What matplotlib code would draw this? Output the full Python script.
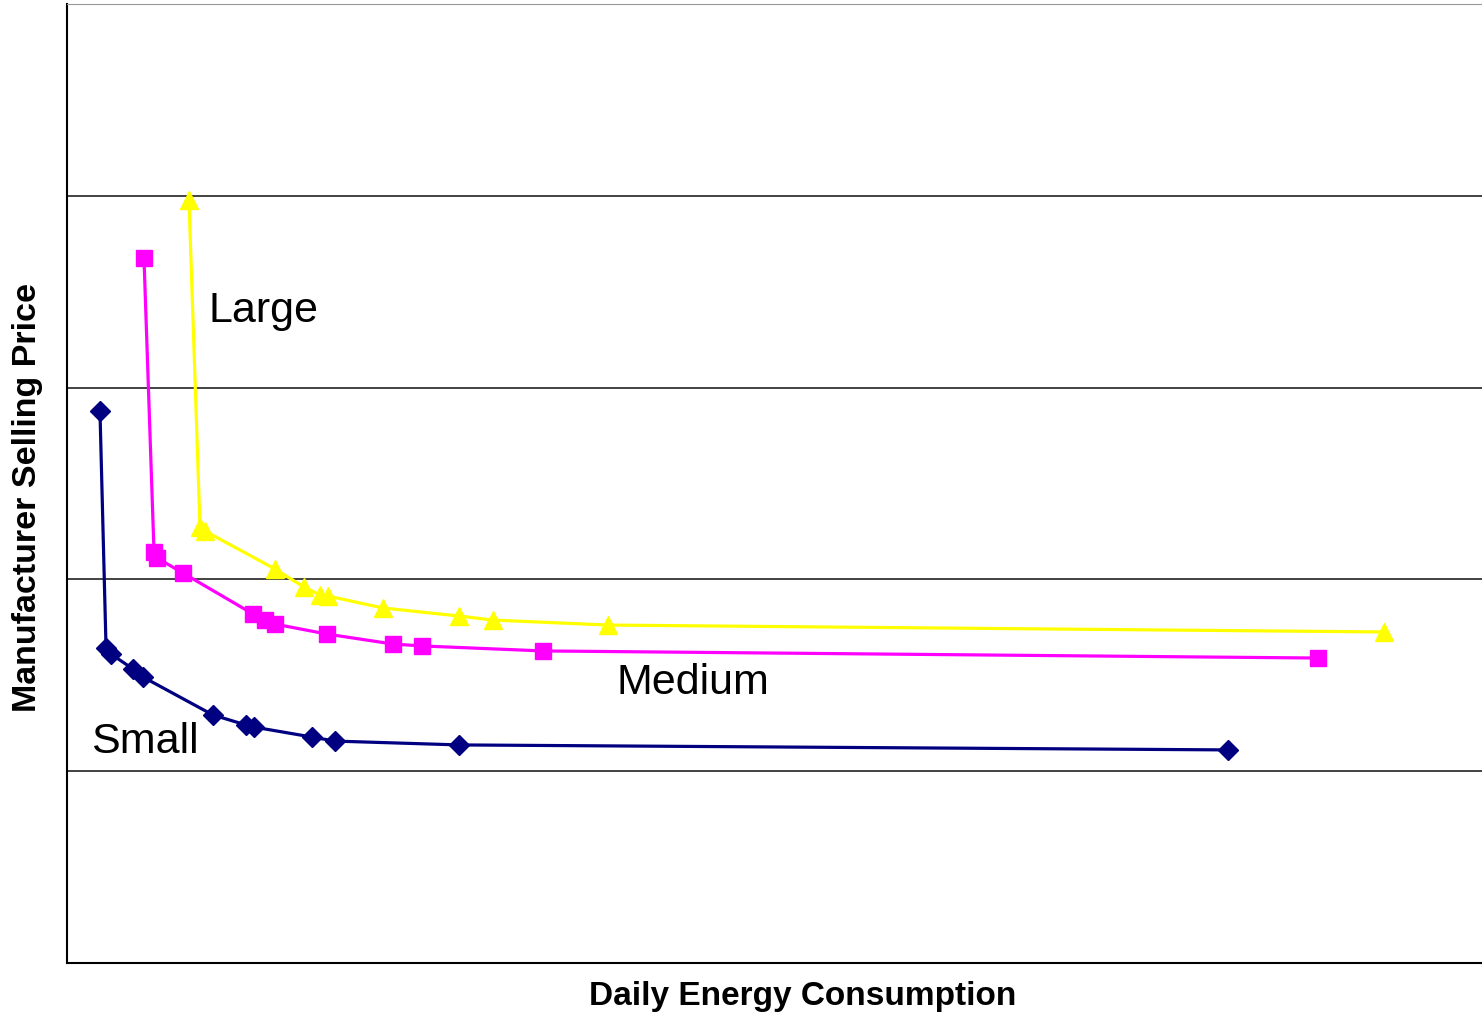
import matplotlib
matplotlib.use("Agg")
import matplotlib.pyplot as plt

# Price vs. daily energy consumption curves (arbitrary units, no tick labels)
small_x = [2.33, 2.76, 3.11, 4.66, 5.37, 10.32, 12.65, 13.22, 17.31, 18.94, 27.70, 82.05]
small_y = [2.878, 1.642, 1.611, 1.533, 1.491, 1.293, 1.241, 1.230, 1.178, 1.157, 1.137, 1.111]

medium_x = [5.44, 6.15, 6.36, 8.20, 13.14, 13.99, 14.70, 18.37, 23.04, 25.09, 33.64, 88.41]
medium_y = [3.676, 2.143, 2.112, 2.033, 1.820, 1.788, 1.767, 1.715, 1.663, 1.653, 1.627, 1.590]

large_x = [8.62, 9.40, 9.75, 14.70, 16.75, 17.88, 18.45, 22.33, 27.70, 30.11, 38.23, 93.07]
large_y = [3.978, 2.273, 2.252, 2.054, 1.960, 1.919, 1.913, 1.851, 1.809, 1.788, 1.762, 1.726]

grid_levels = [1, 2, 3, 4]

plt.rcParams['font.family'] = ['Liberation Sans', 'DejaVu Sans']

fig = plt.figure(figsize=(14.82, 10.16), dpi=100)
ax = fig.add_axes([67 / 1482, 53 / 1016, 1 - 67 / 1482, 959 / 1016])

# horizontal gridlines
for g in grid_levels:
    ax.axhline(g, color='#222222', lw=1.2, zorder=1)

ax.plot(small_x, small_y, color='#000080', lw=2.3, marker='D', ms=10, zorder=3)
ax.plot(medium_x, medium_y, color='#FF00FF', lw=2.3, marker='s', ms=12, zorder=3)
ax.plot(large_x, large_y, color='#FFFF00', lw=2.3, marker='^', ms=13, zorder=3)

ax.text(10.0, 3.40, 'Large', fontsize=31, va='center', ha='left')
ax.text(38.8, 1.46, 'Medium', fontsize=31, va='center', ha='left')
ax.text(1.7, 1.15, 'Small', fontsize=31, va='center', ha='left')

ax.set_xlim(0, 100)
ax.set_ylim(0, 5)
ax.set_xticks([])
ax.set_yticks([])

ax.spines['right'].set_visible(False)
ax.spines['top'].set_color('#999999')
ax.spines['left'].set_linewidth(1.5)
ax.spines['bottom'].set_linewidth(1.5)

fig.text(803 / 1482, 1 - 997 / 1016, 'Daily Energy Consumption', fontsize=24,
         fontweight='bold', ha='center', va='center')
fig.text(28 / 1482, 1 - 497 / 1016, 'Manufacturer Selling Price', fontsize=24.5,
         fontweight='bold', ha='center', va='center', rotation=90)

fig.savefig('out.png', dpi=100)
